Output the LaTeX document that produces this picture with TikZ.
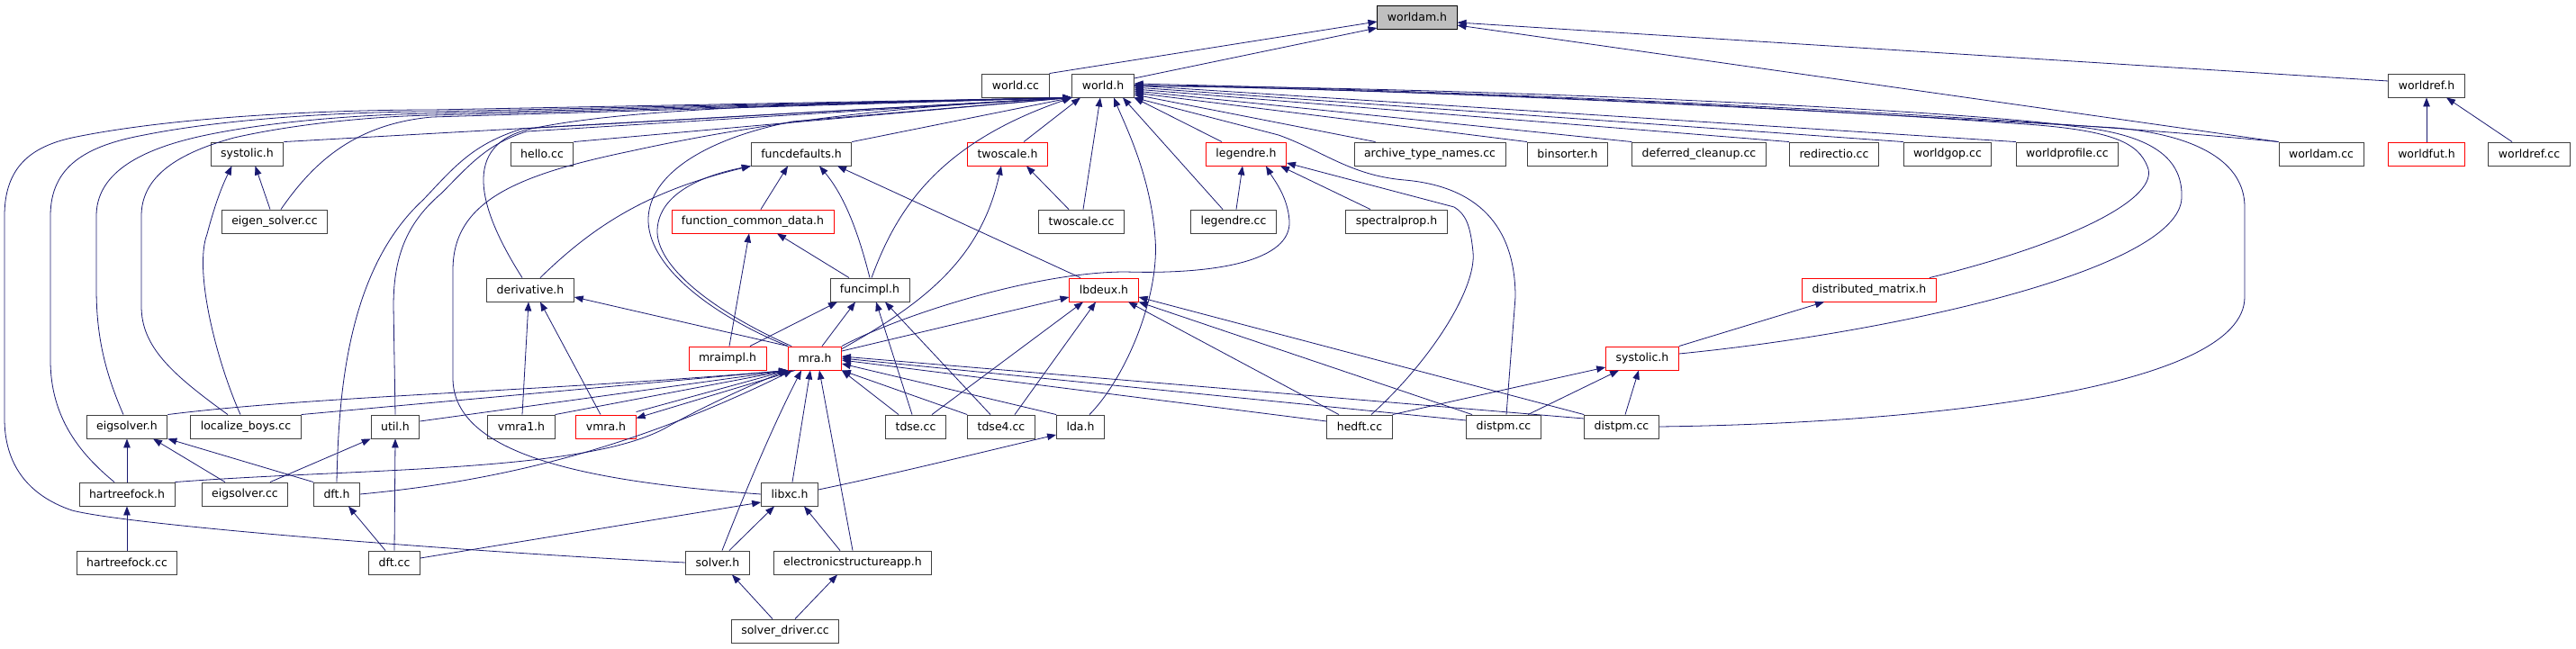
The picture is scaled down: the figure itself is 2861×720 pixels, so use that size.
\documentclass[tikz,border=0pt]{standalone}
\usepackage{fontspec}
\setmainfont{DejaVu Sans}
\usetikzlibrary{arrows.meta}
\definecolor{edgeblue}{HTML}{191970}
\definecolor{boxgray}{HTML}{BFBFBF}
\definecolor{boxline}{HTML}{404040}

\begin{document}
\begin{tikzpicture}[x=1pt, y=-1pt,
    hdr/.style={draw=boxline, fill=white, line width=0.9pt, minimum height=26pt,
        inner xsep=11pt, inner ysep=0pt, font=\fontsize{12.5}{14}\selectfont},
    redhdr/.style={hdr, draw=red},
    tophdr/.style={hdr, draw=black, fill=boxgray},
    inc/.style={draw=edgeblue, line width=0.8pt, -{Triangle[length=10pt, width=7.5pt]}}]

    \useasboundingbox (0,0) rectangle (2861,720);

    % 1. Cac tep (hang tren cung)
    \node[tophdr] (worldamh)  at (1574,19) {worldam.h};
    \node[hdr]    (worldcc)   at (1128,95) {world.cc};
    \node[hdr]    (worldh)    at (1225,95) {world.h};
    \node[hdr]    (worldrefh) at (2695,95) {worldref.h};

    \node[hdr]    (systolicA)    at (274.5,171) {systolic.h};
    \node[hdr]    (hellocc)      at (602,171)  {hello.cc};
    \node[hdr]    (funcdefaults) at (890,171)  {funcdefaults.h};
    \node[redhdr] (twoscaleh)    at (1119,171) {twoscale.h};
    \node[redhdr] (legendreh)    at (1384,171) {legendre.h};
    \node[hdr]    (archive)      at (1588,171) {archive\_type\_names.cc};
    \node[hdr]    (binsorter)    at (1741,171) {binsorter.h};
    \node[hdr]    (deferred)     at (1887,171) {deferred\_cleanup.cc};
    \node[hdr]    (redirectio)   at (2037,171) {redirectio.cc};
    \node[hdr]    (worldgop)     at (2163,171) {worldgop.cc};
    \node[hdr]    (worldprofile) at (2296,171) {worldprofile.cc};
    \node[hdr]    (worldamcc)    at (2578,171) {worldam.cc};
    \node[redhdr] (worldfut)     at (2695,171) {worldfut.h};
    \node[hdr]    (worldrefcc)   at (2809,171) {worldref.cc};

    % 2. Hang giua
    \node[hdr]    (eigensolver)  at (305,246)  {eigen\_solver.cc};
    \node[redhdr] (fcdata)       at (836,246)  {function\_common\_data.h};
    \node[hdr]    (twoscalecc)   at (1201,246) {twoscale.cc};
    \node[hdr]    (legendrecc)   at (1370,246) {legendre.cc};
    \node[hdr]    (spectralprop) at (1551,246) {spectralprop.h};

    \node[hdr]    (derivative) at (589,322)  {derivative.h};
    \node[hdr]    (funcimpl)   at (966,322)  {funcimpl.h};
    \node[redhdr] (lbdeux)     at (1226,322) {lbdeux.h};
    \node[redhdr] (distmatrix) at (2076,322) {distributed\_matrix.h};

    \node[redhdr] (mraimpl)   at (808,398)  {mraimpl.h};
    \node[redhdr] (mra)       at (905,398)  {mra.h};
    \node[redhdr] (systolicB) at (1824,398) {systolic.h};

    % 3. Hang duoi
    \node[hdr]    (eigsolverh) at (141,474)  {eigsolver.h};
    \node[hdr]    (localize)   at (273,474)  {localize\_boys.cc};
    \node[hdr]    (util)       at (439,474)  {util.h};
    \node[hdr]    (vmraone)    at (579,474)  {vmra1.h};
    \node[redhdr] (vmra)       at (673,474)  {vmra.h};
    \node[hdr]    (tdse)       at (1017,474) {tdse.cc};
    \node[hdr]    (tdsefour)   at (1112,474) {tdse4.cc};
    \node[hdr]    (lda)        at (1200,474) {lda.h};
    \node[hdr]    (hedft)      at (1510,474) {hedft.cc};
    \node[hdr]    (distpmA)    at (1670,474) {distpm.cc};
    \node[hdr]    (distpmB)    at (1801,474) {distpm.cc};

    \node[hdr] (hartreefockh) at (141,549) {hartreefock.h};
    \node[hdr] (eigsolvercc)  at (272,549) {eigsolver.cc};
    \node[hdr] (dfth)         at (374,549) {dft.h};
    \node[hdr] (libxc)        at (877,549) {libxc.h};

    \node[hdr] (hartreefockcc) at (141,625) {hartreefock.cc};
    \node[hdr] (dftcc)         at (438,625) {dft.cc};
    \node[hdr] (solverh)       at (797,625) {solver.h};
    \node[hdr] (esapp)         at (947,625) {electronicstructureapp.h};

    \node[hdr] (solverdriver) at (872,701) {solver\_driver.cc};

    % 4. Canh vao worldam.h va worldref.h
    \draw[inc] (worldcc.north east) -- ([yshift=-5]worldamh.west);
    \draw[inc] ([yshift=8]worldh.east) -- ([yshift=-12]worldamh.west);
    \draw[inc] ([yshift=5]worldrefh.west) -- ([yshift=-6]worldamh.east);
    \draw[inc] (worldamcc.north west) -- ([yshift=-9]worldamh.east);
    \draw[inc] (worldfut) -- (worldrefh);
    \draw[inc] ([xshift=-19]worldrefcc.north) -- ([xshift=22]worldrefh.south);

    % 5. Canh vao world.h tu ben trai
    \draw[inc] (solverh.west) .. controls (550,615) and (150,585) .. (80,567)
        .. controls (30,550) and (5,515) .. (5,465) -- (5,240)
        .. controls (5,185) and (35,163) .. (80,153)
        .. controls (200,128) and (380,122) .. (480,122) -- (worldh.south west);
    \draw[inc] ([xshift=-14]hartreefockh.north) .. controls (90,505) and (56,465) .. (56,400) -- (56,240)
        .. controls (56,185) and (95,162) .. (160,150)
        .. controls (260,130) and (400,124) .. (480,124) -- (worldh.south west);
    \draw[inc] ([xshift=-4]eigsolverh.north) .. controls (115,410) and (107,370) .. (107,320) -- (107,240)
        .. controls (107,195) and (150,168) .. (220,152)
        .. controls (300,134) and (410,127) .. (480,126) -- (worldh.south west);
    \draw[inc] ([xshift=-20]localize.north) .. controls (190,415) and (157,385) .. (157,340) -- (157,240)
        .. controls (157,200) and (190,172) .. (260,153)
        .. controls (330,137) and (420,129) .. (480,128) -- (worldh.south west);
    \draw[inc] (systolicA.north east) -- (worldh.south west);
    \draw[inc] ([xshift=7]eigensolver.north) .. controls (345,185) and (390,138) .. (480,130) -- (worldh.south west);
    \draw[inc] (dfth.north) .. controls (376,440) and (385,300) .. (470,222)
        .. controls (505,185) and (525,160) .. (580,143) -- (worldh.south west);
    \draw[inc] (util.north) -- (437,340) .. controls (437,280) and (455,245) .. (490,215)
        .. controls (520,185) and (540,160) .. (585,146) -- (worldh.south west);
    \draw[inc] ([xshift=-9]derivative.north) .. controls (530,230) and (512,160) .. (590,143)
        .. controls (700,120) and (900,115) .. (worldh.south west);
    \draw[inc] (libxc.west) .. controls (650,535) and (503,505) .. (503,420) -- (503,300)
        .. controls (503,225) and (570,195) .. (700,168)
        .. controls (850,135) and (1000,118) .. (worldh.south west);
    \draw[inc] (hellocc.north east) -- (worldh.south west);
    \draw[inc] (funcdefaults.north east) -- (worldh.south west);
    \draw[inc] (mra.north west) .. controls (790,350) and (718,295) .. (720,242)
        .. controls (722,195) and (780,155) .. (880,135) -- (worldh.south west);
    \draw[inc] ([xshift=2]funcimpl.north) .. controls (995,235) and (1040,160) .. (worldh.south west);

    % 6. Canh vao world.h tu ben duoi va ben phai
    \draw[inc] ([xshift=18]twoscaleh.north) -- ([xshift=-25]worldh.south);
    \draw[inc] ([xshift=2]twoscalecc.north) -- ([xshift=-3]worldh.south);
    \draw[inc] ([xshift=10]lda.north) .. controls (1250,420) and (1288,330) .. (1283,265)
        .. controls (1278,195) and (1250,140) .. ([xshift=12]worldh.south);
    \draw[inc] ([xshift=-12]legendrecc.north) -- ([xshift=22]worldh.south);
    \draw[inc] ([xshift=-27]legendreh.north) -- (worldh.south east);
    \draw[inc] ([xshift=24]archive.north west) -- ([yshift=-10]worldh.east);
    \draw[inc] (binsorter.north west) -- ([yshift=-8]worldh.east);
    \draw[inc] (deferred.north west) -- ([yshift=-6]worldh.east);
    \draw[inc] (redirectio.north west) -- ([yshift=-4]worldh.east);
    \draw[inc] (worldgop.north west) -- ([yshift=-2]worldh.east);
    \draw[inc] (worldprofile.north west) -- (worldh.east);
    \draw[inc] (worldamcc.north west) .. controls (2300,135) and (1800,105) .. ([yshift=2]worldh.east);
    \draw[inc] ([xshift=67]distmatrix.north) .. controls (2300,270) and (2400,220) .. (2385,185)
        .. controls (2375,160) and (2350,145) .. (2250,138)
        .. controls (2000,120) and (1600,100) .. (worldh.east);
    \draw[inc] ([yshift=5]systolicB.east) .. controls (2100,370) and (2420,300) .. (2423,220)
        .. controls (2425,170) and (2380,148) .. (2300,140)
        .. controls (2200,125) and (1700,98) .. (worldh.east);
    \draw[inc] (distpmB.east) .. controls (2150,470) and (2493,430) .. (2493,330) -- (2493,230)
        .. controls (2493,180) and (2440,150) .. (2350,142)
        .. controls (2000,122) and (1600,100) .. (worldh.east);
    \draw[inc] ([xshift=3]distpmA.north) -- (1683,330) .. controls (1683,250) and (1640,207) .. (1560,200)
        .. controls (1500,195) and (1470,168) .. (1420,150) -- (worldh.south east);

    % 7. funcdefaults.h, function_common_data.h, twoscale.h, legendre.h
    \draw[inc] ([xshift=9]fcdata.north) -- ([xshift=-15]funcdefaults.south);
    \draw[inc] (funcimpl.north) .. controls (955,265) and (940,220) .. ([xshift=20]funcdefaults.south);
    \draw[inc] ([xshift=11]derivative.north) .. controls (660,250) and (720,212) .. (funcdefaults.south west);
    \draw[inc] ([xshift=4]mra.north west) .. controls (790,345) and (728,295) .. (730,255)
        .. controls (732,215) and (780,195) .. (funcdefaults.south west);
    \draw[inc] ([xshift=-26]lbdeux.north) -- ([xshift=40]funcdefaults.south);
    \draw[inc] ([xshift=2]mraimpl.north) -- ([xshift=-4]fcdata.south);
    \draw[inc] ([xshift=-23]funcimpl.north) -- ([xshift=27]fcdata.south);
    \draw[inc] ([xshift=-14]twoscalecc.north) -- ([xshift=21]twoscaleh.south);
    \draw[inc] ([yshift=-3]mra.north east) .. controls (1030,335) and (1090,285) .. ([xshift=-7]twoscaleh.south);
    \draw[inc] ([xshift=3]legendrecc.north) -- ([xshift=-4]legendreh.south);
    \draw[inc] ([xshift=-29]spectralprop.north) -- ([xshift=38]legendreh.south);
    \draw[inc] ([xshift=13]hedft.north) .. controls (1590,400) and (1640,320) .. (1636,280)
        .. controls (1633,250) and (1628,238) .. (1615,230) -- ([yshift=-10]legendreh.east);
    \draw[inc] (mra.north east) .. controls (1000,350) and (1150,302) .. (1250,302)
        .. controls (1350,305) and (1435,290) .. (1432,245)
        .. controls (1430,218) and (1415,200) .. ([xshift=22]legendreh.south);

    % 8. derivative.h, funcimpl.h, lbdeux.h, systolic.h, distributed_matrix.h
    \draw[inc] (mra.north west) -- ([yshift=-8]derivative.east);
    \draw[inc] ([xshift=1]vmraone.north) -- ([xshift=-2]derivative.south);
    \draw[inc] ([xshift=-6]vmra.north) -- ([xshift=11]derivative.south);
    \draw[inc] ([xshift=25]mraimpl.north) -- ([xshift=-36]funcimpl.south);
    \draw[inc] ([xshift=8]mra.north) -- ([xshift=-16]funcimpl.south);
    \draw[inc] ([xshift=-4]tdse.north) -- ([xshift=7]funcimpl.south);
    \draw[inc] ([xshift=-12]tdsefour.north) -- ([xshift=17]funcimpl.south);
    \draw[inc] ([yshift=8]mra.east) -- ([yshift=-8]lbdeux.west);
    \draw[inc] ([xshift=18]tdse.north) -- ([xshift=-23]lbdeux.south);
    \draw[inc] ([xshift=15]tdsefour.north) -- ([xshift=-9]lbdeux.south);
    \draw[inc] ([xshift=-23]hedft.north) -- ([xshift=27]lbdeux.south);
    \draw[inc] ([xshift=-35]distpmA.north) -- (lbdeux.south east);
    \draw[inc] (distpmB.north west) -- ([yshift=-8]lbdeux.east);
    \draw[inc] (systolicB.north east) -- ([xshift=-50]distmatrix.south);
    \draw[inc] (hedft.north east) -- ([yshift=-10]systolicB.west);
    \draw[inc] ([xshift=27]distpmA.north) -- ([xshift=-26]systolicB.south);
    \draw[inc] ([xshift=4]distpmB.north) -- ([xshift=-4]systolicB.south);

    % 9. Canh vao mra.h
    \draw[inc] (eigsolverh.north east) .. controls (350,440) and (600,435) .. (mra.south west);
    \draw[inc] (localize.north east) -- (mra.south west);
    \draw[inc] ([yshift=6]util.east) -- (mra.south west);
    \draw[inc] (vmraone.north east) -- (mra.south west);
    \draw[inc] ([yshift=3]vmra.north east) -- (mra.south west);
    \draw[inc] ([xshift=8]mra.south west) -- ([yshift=-4]vmra.north east);
    \draw[inc] (hartreefockh.north east) .. controls (400,520) and (650,525) .. (740,475)
        .. controls (780,452) and (840,425) .. (mra.south west);
    \draw[inc] (dfth.east) .. controls (550,535) and (700,500) .. ([xshift=5]mra.south west);
    \draw[inc] ([xshift=-19]tdse.north) -- (mra.south east);
    \draw[inc] (tdsefour.north west) -- (mra.south east);
    \draw[inc] (lda.north west) -- ([yshift=-6]mra.east);
    \draw[inc] ([yshift=6]hedft.west) -- ([yshift=-2]mra.east);
    \draw[inc] ([yshift=7]distpmA.west) -- (mra.east);
    \draw[inc] ([yshift=9]distpmB.west) -- ([yshift=2]mra.east);
    \draw[inc] ([xshift=5]solverh.north) .. controls (830,540) and (860,470) .. ([xshift=-15]mra.south);
    \draw[inc] ([xshift=3]libxc.north) -- ([xshift=-5]mra.south);
    \draw[inc] (esapp.north) -- ([xshift=5]mra.south);

    % 10. Phan duoi ben trai
    \draw[inc] (hartreefockh.north) -- (eigsolverh.south);
    \draw[inc] ([xshift=-22]eigsolvercc.north) -- ([xshift=29]eigsolverh.south);
    \draw[inc] (dfth.north west) -- (eigsolverh.south east);
    \draw[inc] ([xshift=28]eigsolvercc.north) -- (util.south west);
    \draw[inc] (dftcc.north) -- (util.south);
    \draw[inc] ([xshift=-10]dftcc.north) -- ([xshift=13]dfth.south);
    \draw[inc] (hartreefockcc.north) -- (hartreefockh.south);
    \draw[inc] ([xshift=-5]eigensolver.north) -- ([xshift=9]systolicA.south);
    \draw[inc] ([xshift=-6]localize.north) .. controls (240,400) and (215,300) .. (230,260)
        .. controls (238,230) and (245,210) .. ([xshift=-17]systolicA.south);

    % 11. libxc.h, solver.h
    \draw[inc] ([yshift=5]dftcc.east) -- ([yshift=-9]libxc.west);
    \draw[inc] ([yshift=5]libxc.east) .. controls (1000,525) and (1100,500) .. ([yshift=-9]lda.west);
    \draw[inc] ([xshift=13]solverh.north) -- ([xshift=-17]libxc.south);
    \draw[inc] ([xshift=-14]esapp.north) -- ([xshift=16]libxc.south);
    \draw[inc] ([xshift=-14]solverdriver.north) -- ([xshift=16]solverh.south);
    \draw[inc] ([xshift=11]solverdriver.north) -- ([xshift=-17]esapp.south);

\end{tikzpicture}
\end{document}
